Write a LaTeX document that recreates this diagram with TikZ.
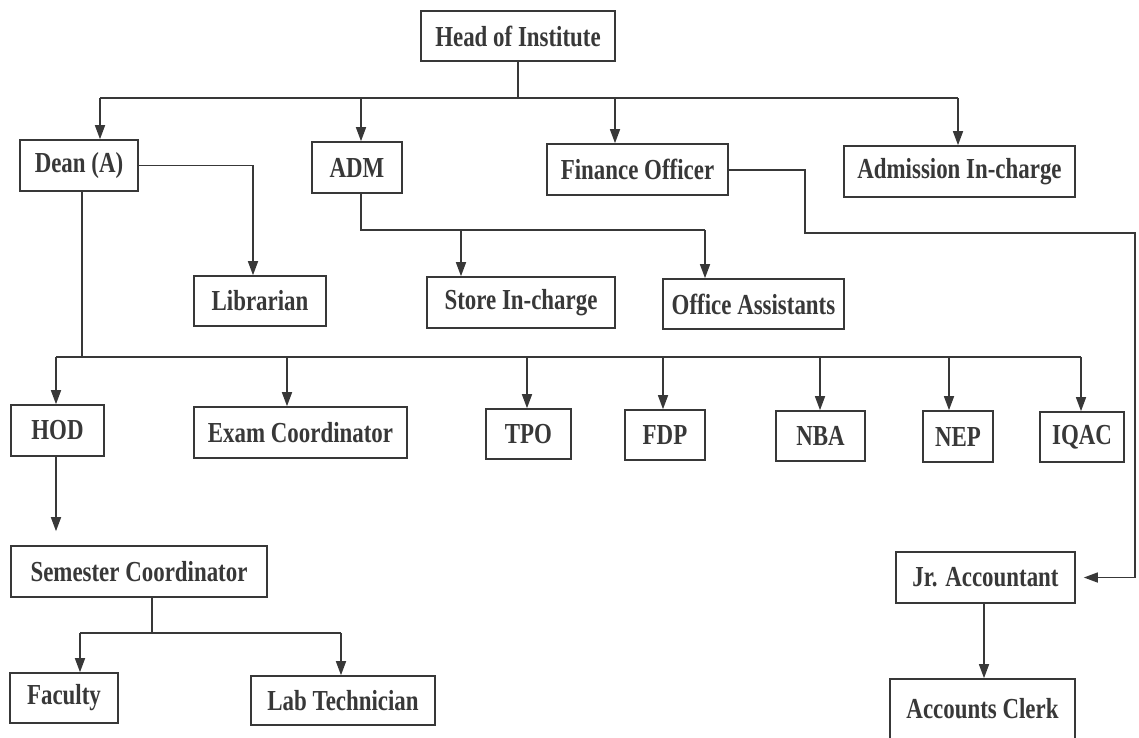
\documentclass[tikz,border=0pt]{standalone}
\usepackage{fontspec}
\setmainfont{Liberation Serif}[FakeStretch=0.79]
\usetikzlibrary{arrows.meta}
\definecolor{ink}{HTML}{383838}
\tikzset{
  box/.style={draw=ink, line width=1.6pt, inner sep=0pt, text=ink,
    font=\fontsize{29}{31}\selectfont\bfseries, minimum height=51pt},
  link/.style={draw=ink, line width=1.5pt},
  arr/.style={link, -{Triangle[length=14pt,width=10pt]}}
}
\begin{document}
\begin{tikzpicture}[x=1pt,y=-1pt]
\useasboundingbox (0,0) rectangle (1139,737);
% nodes
\node[box, minimum width=194pt, minimum height=50pt] (head) at (518,36) {Head of Institute};
\node[box, minimum width=118pt] (dean) at (79,165.5) {Dean (A)};
\node[box, minimum width=90pt] (adm) at (357,167.5) {ADM};
\node[box, minimum width=181pt] (fin) at (637.5,169.5) {Finance Officer};
\node[box, minimum width=231pt] (admin) at (959.5,171.5) {Admission In-charge};
\node[box, minimum width=132pt, minimum height=50pt] (lib) at (260,301) {Librarian};
\node[box, minimum width=188pt] (store) at (521,302.5) {Store In-charge};
\node[box, minimum width=181pt, minimum height=50pt] (office) at (753.5,304) {Office Assistants};
\node[box, minimum width=93pt] (hod) at (57.5,430.5) {HOD};
\node[box, minimum width=213pt] (exam) at (300.5,432.5) {Exam Coordinator};
\node[box, minimum width=85pt, minimum height=50pt] (tpo) at (528.5,434) {TPO};
\node[box, minimum width=80pt, minimum height=50pt] (fdp) at (665,435) {FDP};
\node[box, minimum width=89pt, minimum height=50pt] (nba) at (820.5,436) {NBA};
\node[box, minimum width=70pt] (nep) at (958,436.5) {NEP};
\node[box, minimum width=84pt, minimum height=50pt] (iqac) at (1082,437) {IQAC};
\node[box, minimum width=256pt] (sem) at (139,571.5) {Semester Coordinator};
\node[box, minimum width=108pt, minimum height=50pt] (fac) at (64,698) {Faculty};
\node[box, minimum width=184pt, minimum height=49pt] (lab) at (343,700.5) {Lab Technician};
\node[box, minimum width=179pt] (jr) at (985.5,577.5) {Jr. Accountant};
\node[box, minimum width=185pt, minimum height=66pt] (clerk) at (982.5,712) {\raisebox{7pt}{Accounts Clerk}};
% bus 1 (head)
\coordinate (b1d) at (100,98);
\coordinate (b1a) at (361,98);
\coordinate (b1f) at (615,98);
\coordinate (b1m) at (958,98);
\draw[link] (head.south) -- (head.south |- b1d);
\draw[link] (b1d) -- (b1m);
\draw[arr] (b1d) -- (b1d |- dean.north);
\draw[arr] (b1a) -- (b1a |- adm.north);
\draw[arr] (b1f) -- (b1f |- fin.north);
\draw[arr] (b1m) -- (b1m |- admin.north);
% dean -> librarian
\coordinate (dl) at (253,165.5);
\draw[arr] (dean.east) -- (dl) -- (dl |- lib.north);
% adm bus
\coordinate (b2a) at (361,230);
\coordinate (b2s) at (461,230);
\coordinate (b2o) at (705,230);
\draw[link] (b2a |- adm.south) -- (b2a) -- (b2o);
\draw[arr] (b2s) -- (b2s |- store.north);
\draw[arr] (b2o) -- (b2o |- office.north);
% dean bus
\coordinate (b3d) at (82,357);
\coordinate (b3h) at (56,357);
\coordinate (b3e) at (287,357);
\coordinate (b3t) at (527,357);
\coordinate (b3f) at (663,357);
\coordinate (b3n) at (820,357);
\coordinate (b3p) at (949,357);
\coordinate (b3q) at (1081,357);
\draw[link] (b3d |- dean.south) -- (b3d);
\draw[link] (b3h) -- (b3q);
\draw[arr] (b3h) -- (b3h |- hod.north);
\draw[arr] (b3e) -- (b3e |- exam.north);
\draw[arr] (b3t) -- (b3t |- tpo.north);
\draw[arr] (b3f) -- (b3f |- fdp.north);
\draw[arr] (b3n) -- (b3n |- nba.north);
\draw[arr] (b3p) -- (b3p |- nep.north);
\draw[arr] (b3q) -- (b3q |- iqac.north);
% hod -> semester
\draw[arr, shorten >=14pt] (hod.south -| b3h) -- (b3h |- sem.north);
% semester bus
\coordinate (b4s) at (152,633);
\coordinate (b4f) at (80,633);
\coordinate (b4l) at (341,633);
\draw[link] (b4s |- sem.south) -- (b4s);
\draw[link] (b4f) -- (b4l);
\draw[arr] (b4f) -- (b4f |- fac.north);
\draw[arr] (b4l) -- (b4l |- lab.north);
% finance -> jr accountant
\coordinate (f1) at (805,170);
\coordinate (f2) at (805,233);
\coordinate (f3) at (1135,233);
\coordinate (f4) at (1135,577.5);
\draw[arr, shorten >=8pt] (fin.east |- f1) -- (f1) -- (f2) -- (f3) -- (f4) -- (jr.east);
% jr -> clerk
\coordinate (j1) at (984,603);
\draw[arr] (j1 |- jr.south) -- (j1 |- clerk.north);
\end{tikzpicture}
\end{document}
